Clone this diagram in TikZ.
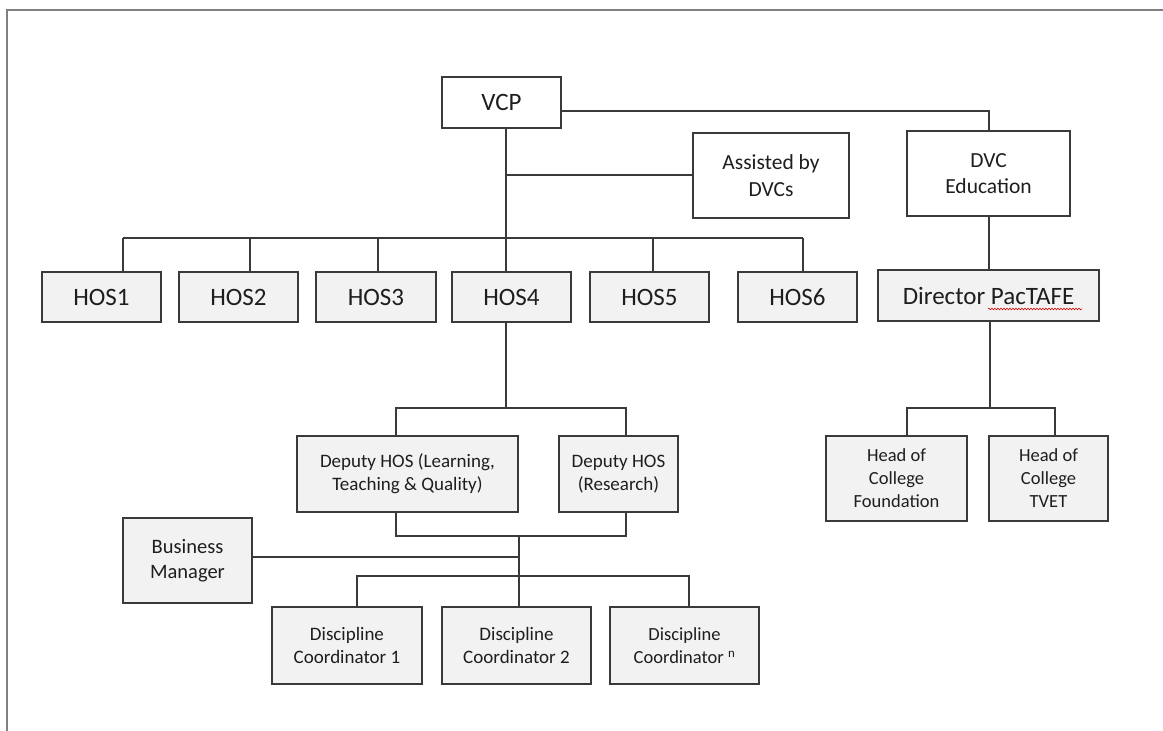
\documentclass[tikz,border=0pt]{standalone}
\usepackage{fontspec}
\setmainfont{Carlito}
\usetikzlibrary{decorations.pathmorphing}
\definecolor{boxfill}{HTML}{F2F2F2}
\definecolor{linec}{HTML}{3A3A3A}
\definecolor{framec}{HTML}{808080}
\definecolor{txt}{HTML}{1E1E1E}
\tikzset{
  orgbox/.style={draw=linec, line width=1.2pt, fill=boxfill, inner sep=0pt, outer sep=0pt, align=center, text=txt},
  whitebox/.style={orgbox, fill=white},
  conn/.style={draw=linec, line width=1.2pt},
  fbig/.style={font=\fontsize{25}{30}\selectfont},
  fmid/.style={font=\fontsize{21.5}{26.5}\selectfont},
  fbm/.style={font=\fontsize{20.5}{25}\selectfont},
  fsm/.style={font=\fontsize{19}{23}\selectfont},
  fxs/.style={font=\fontsize{18.5}{23}\selectfont},
}
\begin{document}
\begin{tikzpicture}[x=1pt,y=-1pt]
\useasboundingbox (0,0) rectangle (1163,731);
% frame
\draw[framec, line width=2pt] (7,731) -- (7,10) -- (1163,10);
% boxes
\node[whitebox, fbig, minimum width=119pt, minimum height=51pt] (VCP) at (501.5,102.5) {VCP};
\node[whitebox, fmid, minimum width=156pt, minimum height=85pt] (ASS) at (771,175.5) {Assisted by\\DVCs};
\node[whitebox, fmid, minimum width=163pt, minimum height=85pt] (DVC) at (988.5,173.5) {DVC\\Education};
\node[orgbox, fbig, minimum width=119pt, minimum height=50pt] (HOS1) at (101.5,297) {HOS1};
\node[orgbox, fbig, minimum width=119pt, minimum height=50pt] (HOS2) at (238.5,297) {HOS2};
\node[orgbox, fbig, minimum width=120pt, minimum height=50pt] (HOS3) at (376,297) {HOS3};
\node[orgbox, fbig, minimum width=119pt, minimum height=50pt] (HOS4) at (511.5,297) {HOS4};
\node[orgbox, fbig, minimum width=119pt, minimum height=50pt] (HOS5) at (649.5,297) {HOS5};
\node[orgbox, fbig, minimum width=119pt, minimum height=50pt] (HOS6) at (797.5,297) {HOS6};
\node[orgbox, fbig, minimum width=221pt, minimum height=51pt] (DIR) at (988.5,295.5) {Director PacTAFE};
\node[orgbox, fsm, minimum width=221pt, minimum height=76pt] (DEP1) at (407.5,474) {Deputy HOS (Learning,\\Teaching \& Quality)};
\node[orgbox, fsm, minimum width=119pt, minimum height=76pt] (DEP2) at (618.5,474) {Deputy HOS\\(Research)};
\node[orgbox, fxs, minimum width=141pt, minimum height=85pt] (HCF) at (896.5,478.5) {Head of\\College\\Foundation};
\node[orgbox, fxs, minimum width=119pt, minimum height=85pt] (HCT) at (1048.5,478.5) {Head of\\College\\TVET};
\node[orgbox, fbm, minimum width=129pt, minimum height=85pt] (BM) at (187.5,560.5) {Business\\Manager};
\node[orgbox, fsm, minimum width=150pt, minimum height=77pt] (DC1) at (347,645.5) {Discipline\\Coordinator 1};
\node[orgbox, fsm, minimum width=149pt, minimum height=77pt] (DC2) at (516.5,645.5) {Discipline\\Coordinator 2};
\node[orgbox, fxs, minimum width=149pt, minimum height=77pt] (DC3) at (684.5,645.5) {Discipline\\Coordinator \textsuperscript{n}};
% spell-check underline
\draw[red!85!black, line width=0.6pt, decorate, decoration={snake, segment length=3pt, amplitude=0.8pt}] (988,309) -- (1082,309);
% junction coordinates
\coordinate (j0) at (506,238);
\coordinate (a0) at (506,175);
\coordinate (d0) at (989,111);
\coordinate (h1) at (123,238);
\coordinate (h2) at (250,238);
\coordinate (h3) at (378,238);
\coordinate (h5) at (653,238);
\coordinate (h6) at (803,238);
\coordinate (c1) at (907,408);
\coordinate (c2) at (1055,408);
\coordinate (c0) at (990,408);
\coordinate (p0) at (506,408);
\coordinate (p1) at (396,408);
\coordinate (p2) at (626,408);
\coordinate (q1) at (396,536);
\coordinate (q2) at (626,536);
\coordinate (q0) at (519,536);
\coordinate (b0) at (519,557);
\coordinate (r0) at (519,576);
\coordinate (r1) at (357,576);
\coordinate (r3) at (689,576);
% connectors
\draw[conn] (VCP.south -| j0) -- (HOS4.north -| j0);
\draw[conn] (a0) -- (ASS.west |- a0);
\draw[conn] (VCP.east |- d0) -- (d0) -- (DVC.north -| d0);
\draw[conn] (h1) -- (h6);
\draw[conn] (h1) -- (HOS1.north -| h1);
\draw[conn] (h2) -- (HOS2.north -| h2);
\draw[conn] (h3) -- (HOS3.north -| h3);
\draw[conn] (h5) -- (HOS5.north -| h5);
\draw[conn] (h6) -- (HOS6.north -| h6);
\draw[conn] (DVC.south -| d0) -- (DIR.north -| d0);
\draw[conn] (DIR.south -| c0) -- (c0);
\draw[conn] (HCF.north -| c1) -- (c1) -- (c2) -- (HCT.north -| c2);
\draw[conn] (HOS4.south -| p0) -- (p0);
\draw[conn] (DEP1.north -| p1) -- (p1) -- (p2) -- (DEP2.north -| p2);
\draw[conn] (DEP1.south -| q1) -- (q1) -- (q2) -- (DEP2.south -| q2);
\draw[conn] (q0) -- (DC2.north -| q0);
\draw[conn] (BM.east |- b0) -- (b0);
\draw[conn] (DC1.north -| r1) -- (r1) -- (r3) -- (DC3.north -| r3);
\end{tikzpicture}
\end{document}
